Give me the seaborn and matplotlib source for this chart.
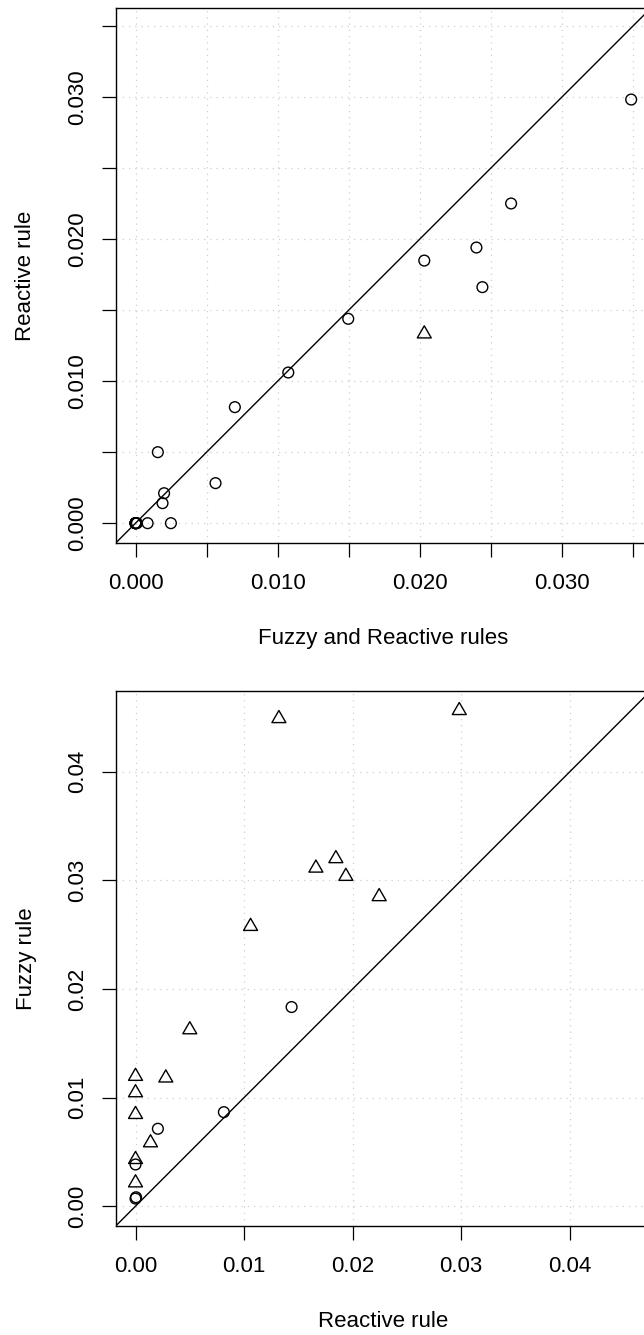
import numpy as np
import pandas as pd
import matplotlib
matplotlib.use("Agg")
import matplotlib.pyplot as plt
from matplotlib.path import Path
import seaborn as sns

# ---------------- data ----------------
# Top panel: x = Fuzzy and Reactive rules, y = Reactive rule
top_circle_x = [0, 0, 0, 0, 0, 0.0001, 0.00085, 0.00249, 0.0019, 0.00201, 0.00157,
                0.00563, 0.00699, 0.01075, 0.01497, 0.02032, 0.02399, 0.02441,
                0.02643, 0.03488]
top_circle_y = [0, 0, 0, 0, 0, 0, 0, 0, 0.00141, 0.00211, 0.00500,
                0.00282, 0.00817, 0.01061, 0.01439, 0.01849, 0.01941, 0.01662,
                0.02251, 0.02983]
top_tri_x = [0.02032]
top_tri_y = [0.01333]

# Bottom panel: x = Reactive rule, y = Fuzzy rule
bot_circle_x = [0.01438, 0.00814, 0.00206, 0, 0, 0.00005]
bot_circle_y = [0.01834, 0.00866, 0.00713, 0.00384, 0.00070, 0.00082]
bot_tri_x = [0.01321, 0.01846, 0.01662, 0.01938, 0.02245, 0.01060, 0.02983,
             0.00500, 0, 0.00279, 0, 0, 0.00138, 0, 0]
bot_tri_y = [0.04491, 0.03201, 0.03114, 0.03038, 0.02851, 0.02577, 0.04565,
             0.01625, 0.01196, 0.01181, 0.01045, 0.00845, 0.00584, 0.00430, 0.00215]

top_xlabel = "Fuzzy and Reactive rules"
top_ylabel = "Reactive rule"
bot_xlabel = "Reactive rule"
bot_ylabel = "Fuzzy rule"

# ---------------- style ----------------
sns.set_theme(style="white")
plt.rcParams['font.family'] = ['Liberation Sans', 'DejaVu Sans']
plt.rcParams['text.color'] = 'black'
plt.rcParams['axes.labelcolor'] = 'black'
plt.rcParams['xtick.color'] = 'black'
plt.rcParams['ytick.color'] = 'black'
FS = 16

# R-like triangle (pch=2), centred on centroid
tri_path = Path([(0, 1), (0.866, -0.5), (-0.866, -0.5), (0, 1)],
                [Path.MOVETO, Path.LINETO, Path.LINETO, Path.CLOSEPOLY])

W, H = 644, 1335
fig = plt.figure(figsize=(W / 100, H / 100), dpi=100)
fig.patch.set_facecolor("white")


def panel(rect, cx, cy, tx, ty, ticks, labels, xlabel, ylabel, xlabelpad, ylab_x):
    ax = fig.add_axes(rect)
    allv = np.concatenate([cx, cy, tx, ty])
    lo, hi = 0.0, allv.max()
    ext = 0.04 * (hi - lo)
    lim = (lo - ext, hi + ext)
    ax.set_xlim(lim)
    ax.set_ylim(lim)
    ax.set_xticks(ticks)
    ax.set_yticks(ticks)
    ax.grid(True, color="#cfcfcf", linestyle=(0, (1, 4)), linewidth=0.9)
    ax.set_axisbelow(True)
    ax.axline((0, 0), slope=1, color="black", linewidth=1.0, zorder=2)

    dfc = pd.DataFrame({"x": cx, "y": cy})
    dft = pd.DataFrame({"x": tx, "y": ty})
    sns.scatterplot(data=dfc, x="x", y="y", marker="o", s=60, ax=ax,
                    color="black", zorder=3)
    ax.collections[-1].set_facecolor("none")
    ax.collections[-1].set_edgecolor("black")
    ax.collections[-1].set_linewidth(1.0)
    sns.scatterplot(data=dft, x="x", y="y", marker=tri_path, s=135, ax=ax,
                    color="black", zorder=3)
    ax.collections[-1].set_facecolor("none")
    ax.collections[-1].set_edgecolor("black")
    ax.collections[-1].set_linewidth(1.0)

    ax.set_xticklabels(labels, fontsize=FS, color="black")
    ax.set_yticklabels(labels, fontsize=FS, rotation=90, va="center", color="black")
    ax.tick_params(axis="both", which="major", direction="out", length=9.8,
                   width=0.9, color="black", bottom=True, left=True)
    ax.tick_params(axis="x", pad=11.5)
    ax.tick_params(axis="y", pad=10)
    for sp in ax.spines.values():
        sp.set_color("black")
        sp.set_linewidth(1.0)
    ax.set_xlabel(xlabel, fontsize=FS, labelpad=xlabelpad, color="black")
    ax.set_ylabel(ylabel, fontsize=FS, color="black")
    ax.yaxis.set_label_coords(ylab_x, 0.5)
    return ax


# axes positions (figure fraction); the plot box runs slightly past the right edge
left = 115.7 / W
top_rect = [left, (H - 543) / H, (651 - 115.7) / W, (543 - 8) / H]
bot_rect = [left, (H - 1226) / H, (650.8 - 115.7) / W, (1226 - 690.7) / H]

top_ticks = [0, 0.005, 0.010, 0.015, 0.020, 0.025, 0.030, 0.035]
top_labels = ["0.000", "", "0.010", "", "0.020", "", "0.030", ""]
bot_ticks = [0, 0.01, 0.02, 0.03, 0.04]
bot_labels = ["0.00", "0.01", "0.02", "0.03", "0.04"]

panel(top_rect, top_circle_x, top_circle_y, top_tri_x, top_tri_y,
      top_ticks, top_labels, top_xlabel, top_ylabel, 25, -0.148)
panel(bot_rect, bot_circle_x, bot_circle_y, bot_tri_x, bot_tri_y,
      bot_ticks, bot_labels, bot_xlabel, bot_ylabel, 25, -0.148)

fig.savefig("out.png", dpi=100, facecolor="white")
